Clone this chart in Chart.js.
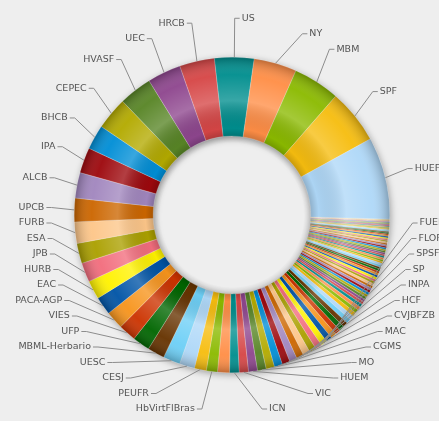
<!DOCTYPE html>
<html><head><meta charset="utf-8">
<script src="https://cdn.jsdelivr.net/npm/chart.js@4.4.0/dist/chart.umd.min.js"></script>
<style>
html,body{margin:0;padding:0;background:#eeeeee;overflow:hidden;}
#wrap{position:relative;width:439px;height:421px;}
</style></head><body>
<div id="wrap"><canvas id="c" width="439" height="421"></canvas></div>
<script>
// Slices in descending order (as drawn counter-clockwise from HUEFS); '' = slice without a visible label
const labelledNames = ['HUEFS','SPF','MBM','NY','US','HRCB','UEC','HVASF','CEPEC','BHCB',
  'IPA','ALCB','UPCB','FURB','ESA','JPB','HURB','EAC','PACA-AGP','VIES',
  'UFP','MBML-Herbario','UESC','CESJ','PEUFR','HbVirtFlBras','','ICN','VIC','HUEM',
  'MO','CGMS','MAC','CVJBFZB','HCF','INPA','SP','SPSF','FLOR','FUEL'];
// share of the circle (degrees)
const headValues = [30.3,20.1,17.2,15.8,14.5,12.9,12.4,12.2,12.0,9.1,
  9.4,9.4,8.7,7.9,7.4,7.1,6.9,6.7,6.6,6.5,
  6.4,6.3,6.3,5.6,4.4,4.1,4.4,3.5,3.4,3.3,
  3.2,3.1,3.0,2.9,2.8,2.7,2.6,2.5,2.4,2.3,
  2.2,2.1,2.0,1.9,1.8,1.7,1.6,1.5,1.4,1.3,1.2];
const tailValues = [1.05,1.0,1.0,0.95,0.95,0.95,0.9,0.9,0.9,0.85,
  0.85,0.85,0.8,0.8,0.8,0.8,0.75,0.75,0.7,0.7,
  0.7,0.7,0.65,0.65,0.65,0.6,0.6,0.6,0.6,0.55,
  0.55,0.55,0.5,0.5,0.5,0.5,0.45,0.45,0.45,0.4,
  0.4,0.35,0.35,0.35,0.3,0.3,0.3,0.3,0.25,0.25,
  0.25,0.2,0.2,0.2,0.2,0.15,0.15,0.1];
const palette = ['#AFD8F8','#F6BD0F','#8BBA00','#FF8E46','#008E8E','#D64646','#8E468E','#588526',
  '#B3AA00','#008ED6','#9D080D','#A186BE','#CC6600','#FDC689','#ABA000','#F26D7D','#FFF200',
  '#0054A6','#F7941C','#CC3300','#006600','#663300','#6DCFF6'];

const allValues = headValues.concat(tailValues);
const allNames = allValues.map((v, i) => labelledNames[i] || '');
const allColors = allValues.map((v, i) => palette[i % palette.length]);
// Chart.js draws clockwise; the reference runs counter-clockwise, so reverse
const drawValues = allValues.slice().reverse();
const drawNames = allNames.slice().reverse();
const drawColors = allColors.slice().reverse();

const ringStyle = {
  id: 'ringStyle',
  beforeDatasetsDraw(chart) {
    const a = chart.getDatasetMeta(0).data[0];
    if (!a) return;
    const ctx = chart.ctx;
    ctx.save();
    ctx.shadowColor = 'rgba(0,0,0,0.35)';
    ctx.shadowBlur = 7;
    ctx.shadowOffsetX = 1;
    ctx.shadowOffsetY = 2;
    ctx.beginPath();
    ctx.arc(a.x, a.y, a.outerRadius, 0, Math.PI * 2);
    ctx.arc(a.x, a.y, a.innerRadius, 0, Math.PI * 2, true);
    ctx.fillStyle = '#cfcfcf';
    ctx.fill();
    ctx.restore();
  },
  afterDatasetsDraw(chart) {
    const meta = chart.getDatasetMeta(0);
    const a0 = meta.data[0];
    if (!a0) return;
    const ctx = chart.ctx;
    const cx = a0.x, cy = a0.y, R = a0.outerRadius, r = a0.innerRadius;
    // shading of the ring
    ctx.save();
    const g = ctx.createRadialGradient(cx, cy, r, cx, cy, R);
    g.addColorStop(0, 'rgba(0,0,0,0.18)');
    g.addColorStop(0.10, 'rgba(0,0,0,0.02)');
    g.addColorStop(0.45, 'rgba(255,255,255,0.22)');
    g.addColorStop(0.78, 'rgba(255,255,255,0.04)');
    g.addColorStop(1, 'rgba(0,0,0,0.25)');
    ctx.beginPath();
    ctx.arc(cx, cy, R, 0, Math.PI * 2);
    ctx.arc(cx, cy, r, 0, Math.PI * 2, true);
    ctx.fillStyle = g;
    ctx.fill();
    // inner hole soft shadow
    const h = ctx.createRadialGradient(cx, cy, r - 7, cx, cy, r);
    h.addColorStop(0, 'rgba(0,0,0,0)');
    h.addColorStop(1, 'rgba(0,0,0,0.10)');
    ctx.beginPath();
    ctx.arc(cx, cy, r, 0, Math.PI * 2);
    ctx.fillStyle = h;
    ctx.fill();
    ctx.restore();

    // labels with leader lines
    const names = chart.data.labels;
    const rx = R + 23, ry = R + 39, gap = 15.5, minY = 10, maxY = 409;
    const left = [], right = [];
    meta.data.forEach((arc, i) => {
      const name = names[i];
      if (!name) return;
      const mid = (arc.startAngle + arc.endAngle) / 2;
      const c = Math.cos(mid), s = Math.sin(mid);
      const it = {name, ax: cx + R * c, ay: cy + R * s, y: cy + ry * s};
      (c >= 0 ? right : left).push(it);
    });
    function spread(list) {
      list.sort((p, q) => p.y - q.y);
      for (let i = 0; i < list.length; i++) {
        list[i].y = i === 0 ? Math.max(list[i].y, minY) : Math.max(list[i].y, list[i - 1].y + gap);
      }
      for (let i = list.length - 1; i >= 0; i--) {
        list[i].y = i === list.length - 1 ? Math.min(list[i].y, maxY) : Math.min(list[i].y, list[i + 1].y - gap);
      }
    }
    spread(left); spread(right);
    ctx.save();
    ctx.font = '9.5px "DejaVu Sans", Verdana, sans-serif';
    ctx.textBaseline = 'middle';
    ctx.lineWidth = 1;
    ctx.strokeStyle = '#8c8c8c';
    ctx.fillStyle = '#555555';
    const drawSide = (list, sign) => {
      list.forEach(it => {
        const dy = (it.y - cy) / ry;
        const ex = cx + sign * rx * Math.sqrt(Math.max(0, 1 - dy * dy));
        ctx.beginPath();
        ctx.moveTo(it.ax, it.ay);
        ctx.lineTo(ex, it.y);
        ctx.lineTo(ex + sign * 5, it.y);
        ctx.stroke();
        ctx.textAlign = sign > 0 ? 'left' : 'right';
        ctx.fillText(it.name, ex + sign * 7, it.y);
      });
    };
    drawSide(right, 1);
    drawSide(left, -1);
    ctx.restore();
  }
};

new Chart(document.getElementById('c'), {
  type: 'doughnut',
  data: {
    labels: drawNames,
    datasets: [{
      data: drawValues,
      backgroundColor: drawColors,
      borderColor: 'rgba(255,255,255,0.45)',
      borderWidth: 0.5
    }]
  },
  options: {
    responsive: false,
    devicePixelRatio: 1,
    animation: false,
    rotation: 91.5,
    cutout: '50%',
    layout: {padding: {left: 74, right: 49, top: 57, bottom: 48}},
    plugins: {legend: {display: false}, tooltip: {enabled: false}}
  },
  plugins: [ringStyle]
});
</script>
</body></html>
